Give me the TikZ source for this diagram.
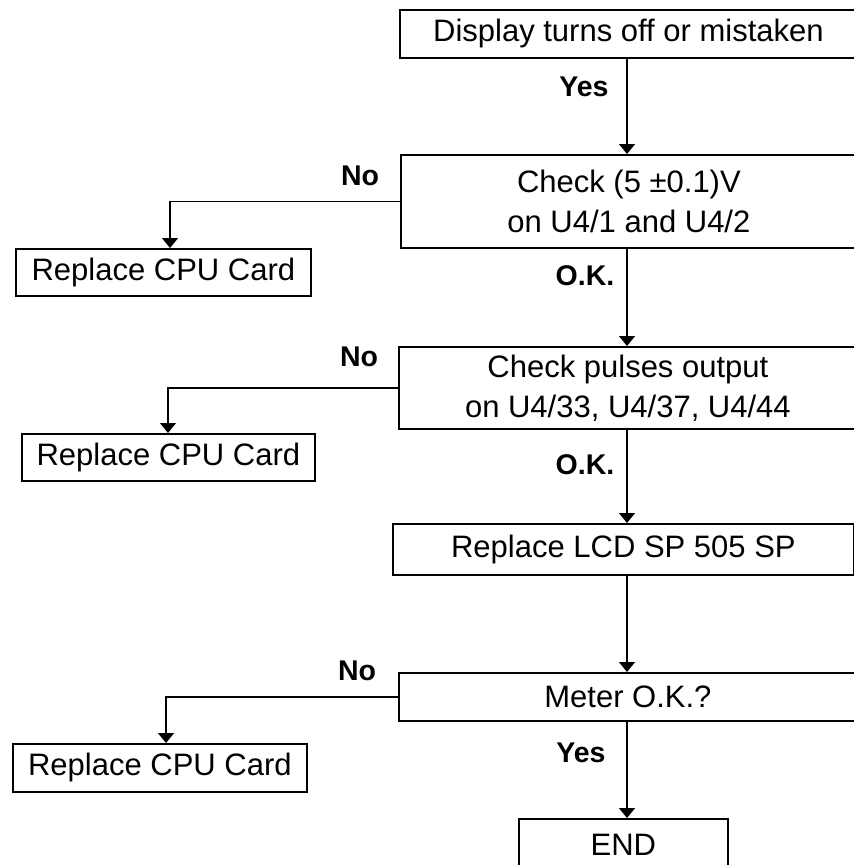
\documentclass[tikz,border=0pt]{standalone}
\usepackage{fontspec}
\setmainfont{Liberation Sans}
\usetikzlibrary{arrows.meta}
\begin{document}
\begin{tikzpicture}[x=1pt, y=-1pt,
  box/.style = {shape=rectangle, draw, line width=1.8pt, align=center,
    anchor=north west, inner sep=0pt,
    font=\fontsize{31}{40}\selectfont},
  lbl/.style = {inner sep=0pt, font=\fontsize{28.5}{34}\selectfont\bfseries},
  arr/.style = {line width=1.3pt, -{Triangle[length=10pt,width=16pt]}}]
  \useasboundingbox (0,0) rectangle (854,865);
  \node[box, minimum width=457pt, minimum height=48pt] (disp) at (399,9) {Display turns off or mistaken};
  \node[box, minimum width=456pt, minimum height=93pt] (volt) at (400,154) {Check (5 ±0.1)V\\on U4/1 and U4/2};
  \node[box, minimum width=458pt, minimum height=82pt] (puls) at (398,346) {Check pulses output\\on U4/33, U4/37, U4/44};
  \node[box, minimum width=461pt, minimum height=51pt] (lcd) at (392,523) {Replace LCD SP 505 SP};
  \node[box, minimum width=458pt, minimum height=48pt] (meter) at (398,672) {Meter O.K.?};
  \node[box, minimum width=209pt, minimum height=52pt] (fin) at (518,818) {END};
  \node[box, minimum width=295pt, minimum height=47pt] (cpuA) at (15,248) {Replace CPU Card};
  \node[box, minimum width=293pt, minimum height=47pt] (cpuB) at (21,433) {Replace CPU Card};
  \node[box, minimum width=294pt, minimum height=48pt] (cpuC) at (12,743) {Replace CPU Card};
  \node[lbl] (yesA) at (584,87) {Yes};
  \node[lbl] (noA) at (360,176) {No};
  \node[lbl] (okA) at (585,276) {O.K.};
  \node[lbl] (noB) at (359,357) {No};
  \node[lbl] (okB) at (585,465) {O.K.};
  \node[lbl] (noC) at (357,671) {No};
  \node[lbl] (yesB) at (581,753) {Yes};
  \coordinate (sp) at (627,0);
  \coordinate (tA) at (170,0);
  \coordinate (tB) at (168,0);
  \coordinate (tC) at (166,0);
  \draw[arr] (disp.south -| sp) -- (volt.north -| sp);
  \draw[arr] (volt.south -| sp) -- (puls.north -| sp);
  \draw[arr] (puls.south -| sp) -- (lcd.north -| sp);
  \draw[arr] (lcd.south -| sp) -- (meter.north -| sp);
  \draw[arr] (meter.south -| sp) -- (fin.north -| sp);
  \draw[arr] (volt.west) -| (cpuA.north -| tA);
  \draw[arr] (puls.west) -| (cpuB.north -| tB);
  \draw[arr] (meter.west) -| (cpuC.north -| tC);
\end{tikzpicture}
\end{document}
